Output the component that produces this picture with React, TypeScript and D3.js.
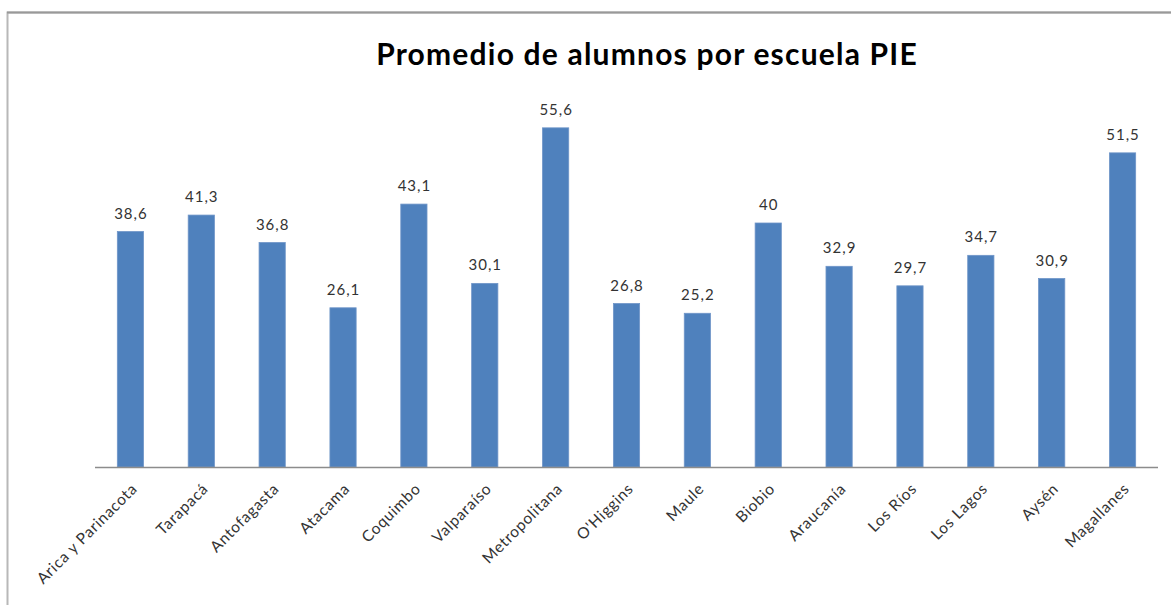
import React from "react";
import * as d3 from "d3";

const categories = ["Arica y Parinacota","Tarapacá","Antofagasta","Atacama","Coquimbo","Valparaíso","Metropolitana","O'Higgins","Maule","Biobio","Araucanía","Los Ríos","Los Lagos","Aysén","Magallanes"];
const values = [38.6,41.3,36.8,26.1,43.1,30.1,55.6,26.8,25.2,40,32.9,29.7,34.7,30.9,51.5];
const title = "Promedio de alumnos por escuela PIE";

const W = 1171, H = 605;
const M = { left: 95, right: 1158, top: 101, bottom: 467 };

export default function App() {
  const x = d3.scaleBand<string>().domain(categories).range([M.left, M.right]).paddingInner(0.63).paddingOuter(0.315);
  const y = d3.scaleLinear().domain([0, 60]).range([M.bottom, M.top]);
  const fmt = (v: number) => String(v).replace(".", ",");
  const font = "Lato, 'Open Sans', sans-serif";
  return (
    <svg width={W} height={H} style={{ position: "absolute", left: 0, top: 0, background: "#fff" }}>
      <rect x={7.5} y={12.5} width={1200} height={700} fill="#fff" stroke="#b8b8b8" strokeWidth={2} />
      <line x1={7} x2={1171} y1={12.5} y2={12.5} stroke="#999" strokeWidth={2} />
      <text x={647} y={65} textAnchor="middle" fontFamily={font} fontWeight="bold" fontSize={30} letterSpacing={1.2} fill="#000">{title}</text>
      {categories.map((c, i) => {
        const cx = (x(c) as number) + x.bandwidth() / 2;
        return (
          <g key={c}>
            <rect x={x(c)} y={y(values[i])} width={x.bandwidth()} height={y(0) - y(values[i])} fill="#4f81bd" stroke="#6f95c8" strokeWidth={0.8} />
            <text x={cx + 0.5} y={y(values[i]) - 13} textAnchor="middle" fontFamily={font} fontSize={15} letterSpacing={1} fill="#333">{fmt(values[i])}</text>
            <text transform={`translate(${cx + 5},${M.bottom + 20}) rotate(-45)`} textAnchor="end" dominantBaseline="middle" fontFamily={font} fontSize={15.5} letterSpacing={0.7} fill="#333">{c}</text>
          </g>
        );
      })}
      <line x1={M.left} x2={M.right} y1={M.bottom + 0.5} y2={M.bottom + 0.5} stroke="#8c8c8c" strokeWidth={1.5} />
    </svg>
  );
}
